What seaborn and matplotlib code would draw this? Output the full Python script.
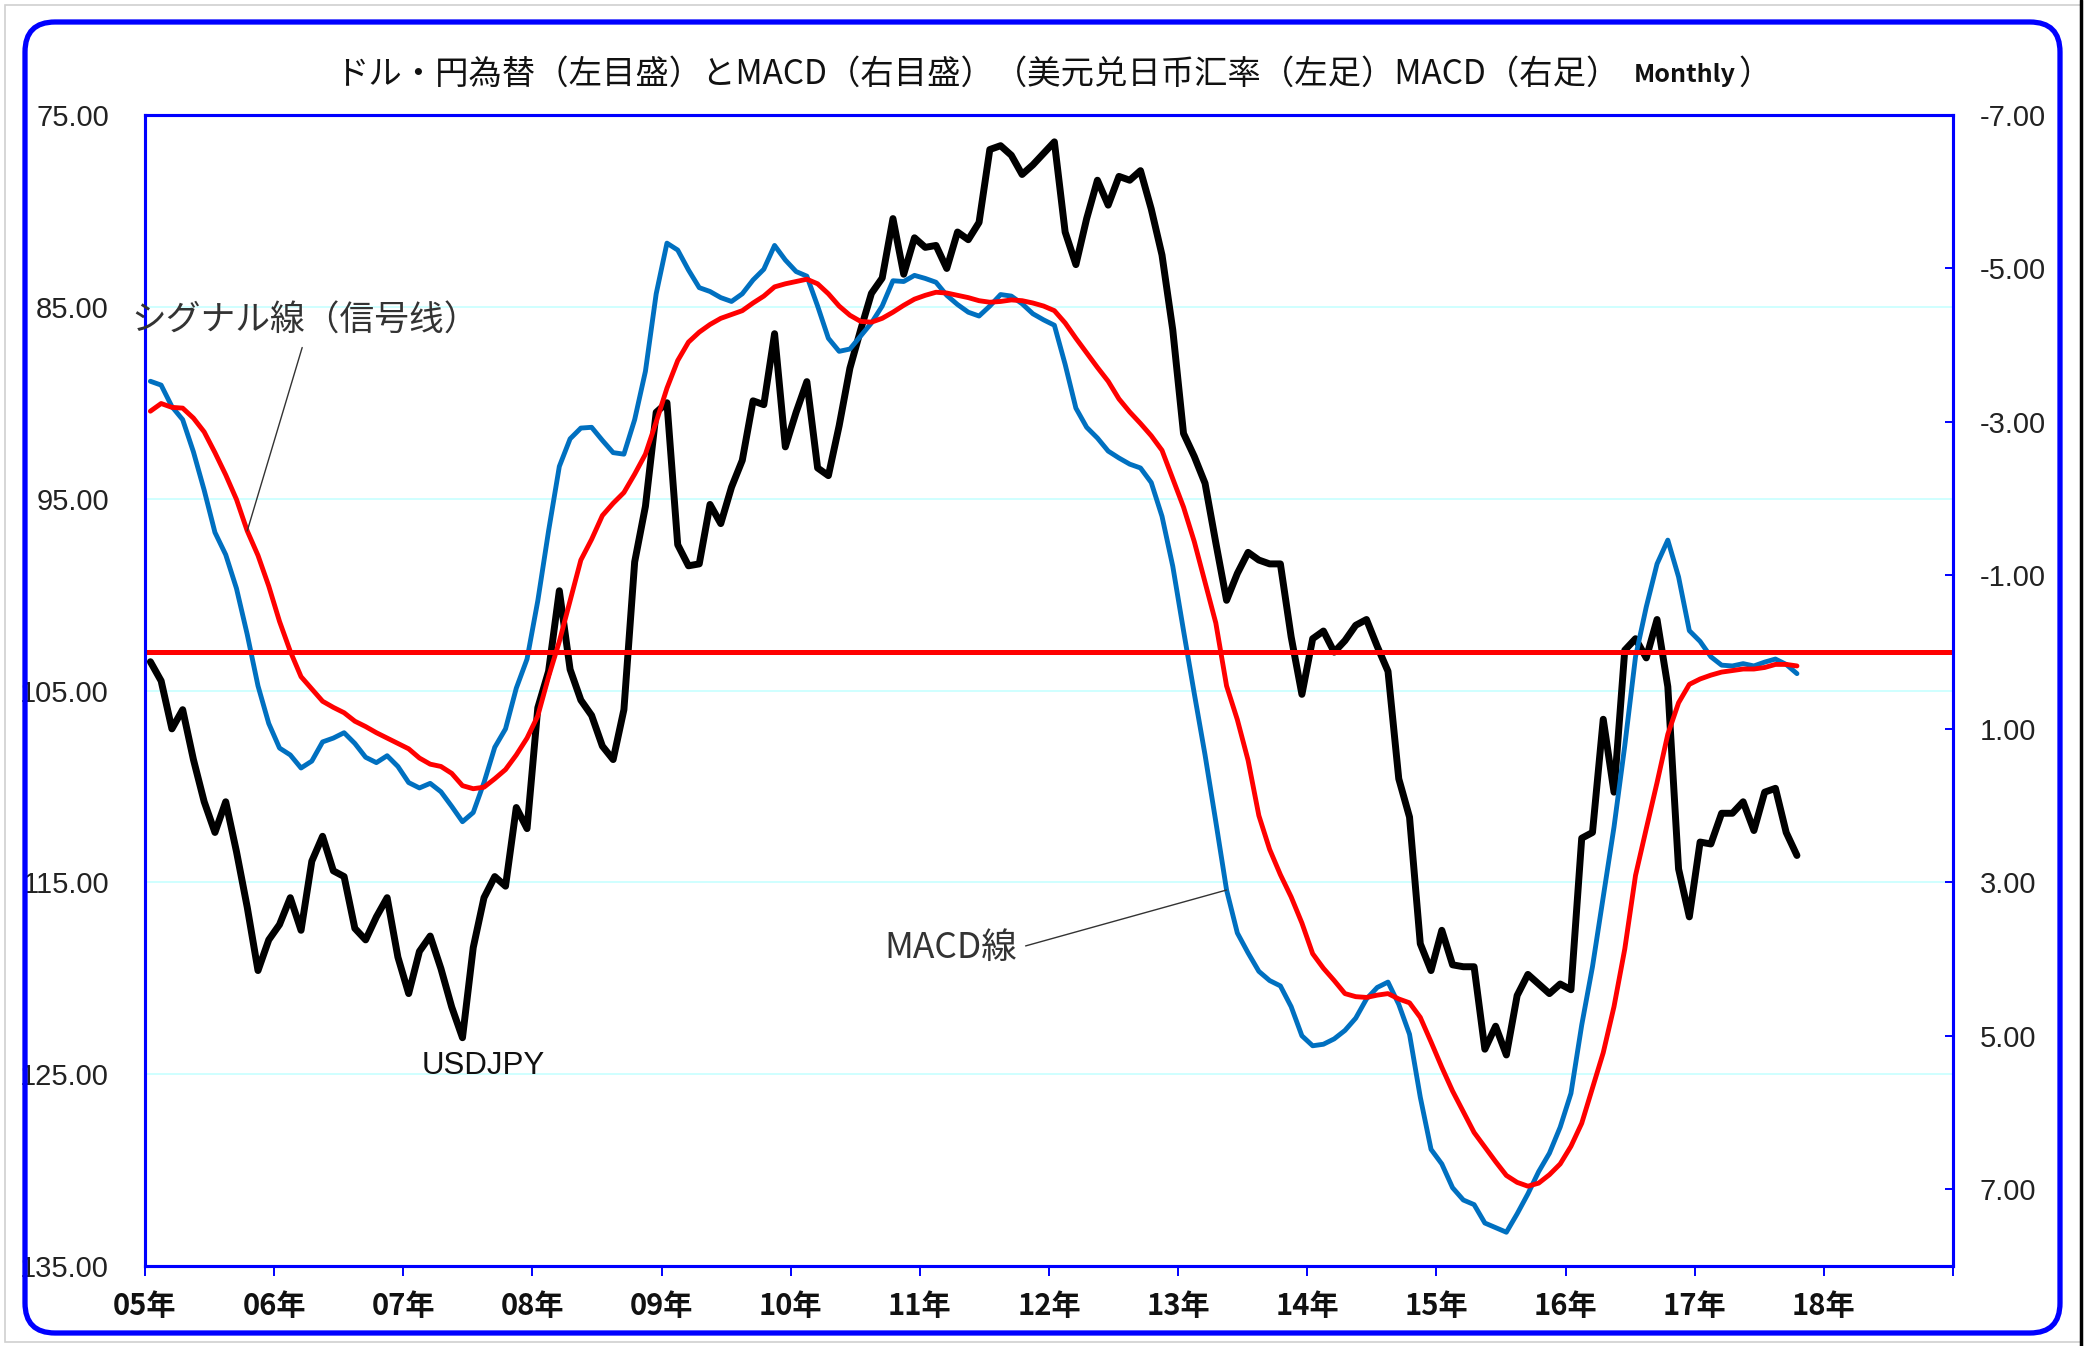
import numpy as np
import pandas as pd
import matplotlib
matplotlib.use("Agg")
import matplotlib.pyplot as plt
import seaborn as sns
from matplotlib.patches import FancyBboxPatch, Rectangle
from matplotlib.lines import Line2D
from matplotlib.text import Annotation
from matplotlib.transforms import IdentityTransform

# USD/JPY month-end rate, Jan 2005 - Oct 2017 (left axis, inverted)
usdjpy = [
    103.5, 104.5, 107.0, 106.0, 108.6, 110.8, 112.4, 110.8, 113.4, 116.3, 119.6, 118.0,
    117.2, 115.8, 117.5, 113.9, 112.6, 114.4, 114.7, 117.4, 118.0, 116.8, 115.8, 118.9,
    120.8, 118.6, 117.8, 119.5, 121.5, 123.1, 118.4, 115.8, 114.7, 115.2, 111.1, 112.2,
    105.9, 104.0, 99.8, 103.9, 105.5, 106.3, 107.9, 108.6, 106.0, 98.3, 95.4, 90.5,
    90.0, 97.4, 98.5, 98.4, 95.3, 96.3, 94.4, 93.0, 89.9, 90.1, 86.4, 92.3,
    90.5, 88.9, 93.4, 93.8, 91.2, 88.2, 86.2, 84.3, 83.5, 80.4, 83.3, 81.4,
    81.9, 81.8, 83.0, 81.1, 81.5, 80.6, 76.8, 76.6, 77.1, 78.1, 77.6, 77.0,
    76.4, 81.1, 82.8, 80.4, 78.4, 79.7, 78.2, 78.4, 77.9, 79.9, 82.3, 86.2,
    91.6, 92.8, 94.2, 97.3, 100.3, 98.9, 97.8, 98.2, 98.4, 98.4, 102.2, 105.2,
    102.3, 101.9, 103.0, 102.4, 101.6, 101.3, 102.7, 104.0, 109.6, 111.6, 118.2, 119.6,
    117.5, 119.3, 119.4, 119.4, 123.7, 122.5, 124.0, 120.9, 119.8, 120.3, 120.8, 120.3,
    120.6, 112.7, 112.4, 106.5, 110.3, 102.9, 102.3, 103.3, 101.3, 104.8, 114.3, 116.8,
    112.9, 113.0, 111.4, 111.4, 110.8, 112.3, 110.3, 110.1, 112.4, 113.6,
]

# MACD line (right axis, inverted)
macd = [
    -3.53, -3.48, -3.20, -3.03, -2.61, -2.11, -1.56, -1.27, -0.83, -0.23, 0.44, 0.93,
    1.25, 1.34, 1.51, 1.42, 1.17, 1.12, 1.05, 1.19, 1.37, 1.44, 1.35, 1.49,
    1.70, 1.77, 1.71, 1.82, 2.01, 2.21, 2.09, 1.70, 1.24, 1.00, 0.47, 0.09,
    -0.67, -1.58, -2.42, -2.78, -2.92, -2.93, -2.76, -2.60, -2.58, -3.03, -3.66, -4.67,
    -5.33, -5.24, -4.98, -4.75, -4.70, -4.62, -4.57, -4.67, -4.85, -4.99, -5.30, -5.11,
    -4.96, -4.90, -4.51, -4.09, -3.92, -3.95, -4.12, -4.29, -4.51, -4.84, -4.83, -4.91,
    -4.87, -4.82, -4.65, -4.53, -4.43, -4.38, -4.51, -4.66, -4.64, -4.54, -4.41, -4.33,
    -4.26, -3.75, -3.18, -2.93, -2.79, -2.62, -2.53, -2.45, -2.40, -2.21, -1.77, -1.12,
    -0.28, 0.54, 1.34, 2.21, 3.10, 3.66, 3.92, 4.16, 4.28, 4.35, 4.62, 5.00,
    5.13, 5.11, 5.04, 4.93, 4.77, 4.52, 4.37, 4.30, 4.59, 4.98, 5.80, 6.48,
    6.67, 6.98, 7.14, 7.20, 7.44, 7.50, 7.56, 7.32, 7.06, 6.77, 6.53, 6.19,
    5.75, 4.86, 4.10, 3.19, 2.28, 1.22, 0.06, -0.59, -1.15, -1.46, -0.98, -0.28,
    -0.14, 0.06, 0.17, 0.18, 0.15, 0.18, 0.13, 0.09, 0.16, 0.28,
]

# signal line (right axis)
signal = [
    -3.14, -3.24, -3.19, -3.18, -3.05, -2.87, -2.60, -2.31, -1.99, -1.58, -1.26, -0.86,
    -0.40, -0.01, 0.32, 0.48, 0.64, 0.72, 0.79, 0.90, 0.97, 1.05, 1.12, 1.19,
    1.26, 1.38, 1.46, 1.49, 1.58, 1.74, 1.78, 1.76, 1.65, 1.53, 1.34, 1.12,
    0.83, 0.32, -0.14, -0.67, -1.20, -1.47, -1.78, -1.94, -2.08, -2.32, -2.58, -3.00,
    -3.44, -3.80, -4.04, -4.17, -4.27, -4.35, -4.40, -4.45, -4.55, -4.64, -4.76, -4.80,
    -4.83, -4.86, -4.80, -4.67, -4.51, -4.39, -4.31, -4.30, -4.35, -4.43, -4.52, -4.60,
    -4.65, -4.69, -4.68, -4.65, -4.62, -4.58, -4.56, -4.57, -4.59, -4.58, -4.55, -4.51,
    -4.45, -4.29, -4.09, -3.90, -3.71, -3.53, -3.30, -3.13, -2.98, -2.82, -2.63, -2.26,
    -1.89, -1.44, -0.91, -0.38, 0.44, 0.88, 1.41, 2.13, 2.57, 2.90, 3.19, 3.53,
    3.93, 4.12, 4.28, 4.45, 4.49, 4.50, 4.47, 4.45, 4.52, 4.57, 4.76, 5.08,
    5.41, 5.72, 5.99, 6.26, 6.45, 6.64, 6.82, 6.91, 6.96, 6.92, 6.81, 6.67,
    6.44, 6.14, 5.68, 5.22, 4.62, 3.87, 2.91, 2.30, 1.70, 1.07, 0.66, 0.42,
    0.35, 0.30, 0.26, 0.24, 0.22, 0.22, 0.20, 0.16, 0.16, 0.18,
]

year_labels = ['05年', '06年', '07年', '08年', '09年', '10年', '11年', '12年',
               '13年', '14年', '15年', '16年', '17年', '18年', '']
left_ticks = [75, 85, 95, 105, 115, 125, 135]
right_ticks = [-7, -5, -3, -1, 1, 3, 5, 7]

# months counted from Jan 2005, points sit in the middle of each month
df = pd.DataFrame({
    'month': np.arange(len(usdjpy)) + 0.5,
    'USDJPY': usdjpy,
    'MACD': macd,
    'Signal': signal,
})

sns.set_theme(style='white')
plt.rcParams['font.family'] = ['Noto Sans CJK JP', 'DejaVu Sans']
num_font = ['Liberation Sans Narrow', 'Liberation Sans', 'DejaVu Sans']
frame_blue = '#0000FF'

W, H = 2094, 1346
fig = plt.figure(figsize=(W / 100, H / 100), dpi=100)
fig.patch.set_facecolor('white')
ax = fig.add_axes([145 / W, 1 - 1266 / H, (1953 - 145) / W, (1266 - 115) / H])
ax2 = ax.twinx()

sns.lineplot(data=df, x='month', y='USDJPY', ax=ax, color='black', lw=5.0,
             solid_joinstyle='round')
sns.lineplot(data=df, x='month', y='MACD', ax=ax2, color='#0070C0', lw=3.5,
             solid_joinstyle='round')
sns.lineplot(data=df, x='month', y='Signal', ax=ax2, color='#FF0000', lw=3.5,
             solid_joinstyle='round')
ax2.axhline(0, color='#FF0000', lw=3.6)

ax.set_xlim(0, 168)
ax.set_ylim(135, 75)
ax2.set_ylim(8, -7)
for a in (ax, ax2):
    a.set_xlabel('')
    a.set_ylabel('')
    for sp in a.spines.values():
        sp.set_color(frame_blue)
        sp.set_linewidth(2.2)

ax.set_xticks(range(0, 169, 12))
ax.set_xticklabels(year_labels, fontsize=21, fontweight='bold', color='#111111')
ax.set_yticks(left_ticks)
ax.set_yticklabels([f'{v:.2f}' for v in left_ticks], family=num_font,
                   fontsize=21, color='#222222')
ax2.set_yticks(right_ticks)
ax2.set_yticklabels([f'{v:.2f}' for v in right_ticks], family=num_font,
                    fontsize=21, color='#222222')

ax.tick_params(axis='x', direction='out', length=7, width=1.4, color=frame_blue,
               pad=11, bottom=True)
ax.tick_params(axis='y', length=0, pad=26)
ax2.tick_params(axis='y', direction='in', length=6, width=1.4, color=frame_blue,
                pad=19, right=True)

ax.yaxis.grid(True, color='#CCFFFF', lw=1.3)
ax.xaxis.grid(False)
ax2.grid(False)

# callouts
ax2.annotate('シグナル線（信号线）', xy=(df['month'][9], df['Signal'][9]),
             xytext=(-1.3, -4.31), textcoords='data', ha='left', va='center',
             fontsize=25, color='#333333', annotation_clip=False,
             arrowprops=dict(arrowstyle='-', color='#333333', lw=1.0,
                             relpos=(0.5, 0.0), shrinkA=4, shrinkB=0))
ax2.annotate('MACD線', xy=(df['month'][100], df['MACD'][100]),
             xytext=(68.7, 3.86), textcoords='data', ha='left', va='center',
             fontsize=25.5, color='#333333',
             arrowprops=dict(arrowstyle='-', color='#333333', lw=1.0,
                             relpos=(1.0, 0.5), shrinkA=4, shrinkB=0))
ax.text(25.7, 124.6, 'USDJPY', family=['Liberation Sans', 'DejaVu Sans'],
        fontsize=22.5, color='#111111', ha='left', va='center')

# title in pieces: main text, small "Monthly", closing bracket
t1 = fig.text(335 / W, 1 - 74 / H,
              'ドル・円為替（左目盛）とMACD（右目盛）（美元兑日币汇率（左足）MACD（右足）',
              fontsize=24, color='#111111', ha='left', va='center')
t2 = fig.add_artist(Annotation(
    'Monthly', xy=(1.0, 0.12), xycoords=t1, xytext=(10, 0),
    textcoords='offset points', ha='left', va='bottom',
    fontsize=18, fontweight='bold', color='#111111'))
fig.add_artist(Annotation(
    '）', xy=(1.0, 0.0), xycoords=(t2, t1), xytext=(2, 0),
    textcoords='offset points', ha='left', va='bottom', fontsize=24,
    color='#111111'))

# outer frames of the picture
fig.add_artist(Rectangle((5, 4), 2076, 1337, transform=IdentityTransform(),
                         fill=False, ec='#D0D0D0', lw=1.2))
fig.add_artist(Line2D([2081, 2081], [0, H], transform=IdentityTransform(),
                      color='black', lw=2.5))
fig.add_artist(FancyBboxPatch((25, 13), 2035, 1311,
                              boxstyle='round,pad=0,rounding_size=30',
                              transform=IdentityTransform(), fill=False,
                              ec=frame_blue, lw=3.8))

fig.savefig('out.png', dpi=100)
